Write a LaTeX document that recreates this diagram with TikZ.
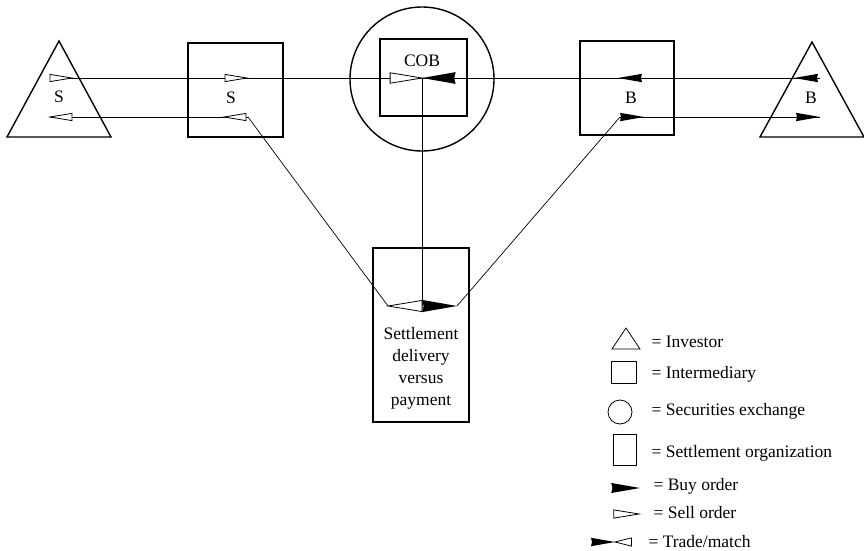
\documentclass[tikz,border=0pt]{standalone}
\usepackage{fontspec}
\setmainfont{Liberation Serif}
\begin{document}
\begin{tikzpicture}[x=1pt,y=-1pt,
  shapeline/.style={line width=1.4pt},
  keyline/.style={line width=0.8pt},
  link/.style={line width=0.7pt},
  boxnode/.style={shapeline,draw,rectangle,inner sep=0pt},
  lbl/.style={font=\fontsize{17.5}{21.7}\selectfont},
  keytext/.style={lbl,anchor=base west},
  % open (sell) and filled (buy) arrow heads, tip at the origin, pointing along +x
  pics/sellhead/.style={code={\draw[line width=0.8pt,fill=white,line join=miter]
      (0,0) -- (-22,-3.6) -- (-22,3.6) -- cycle;}},
  pics/buyhead/.style={code={\fill[black]
      (0,0) -- (-24,-4.2) -- (-23,0) -- (-24,4.2) -- cycle;}}
]
\useasboundingbox (0,0) rectangle (864,551);

% investors
\coordinate (tl1) at (59,41);
\coordinate (tl2) at (7,137);
\coordinate (tl3) at (111,137);
\draw[shapeline,line join=miter] (tl1) -- (tl2) -- (tl3) -- cycle;
\node[lbl] (sellinv) at (59,97) {S};

\coordinate (tr1) at (812,42);
\coordinate (tr2) at (760,137);
\coordinate (tr3) at (864,137);
\draw[shapeline,line join=miter] (tr1) -- (tr2) -- (tr3) -- cycle;
\node[lbl] (buyinv) at (811,98) {B};

% intermediaries
\node[boxnode,minimum width=95pt,minimum height=94pt] (sellint) at (235.5,90) {};
\node[lbl] (sellintlbl) at (231,98) {S};
\node[boxnode,minimum width=94pt,minimum height=94pt] (buyint) at (627,88) {};
\node[lbl] (buyintlbl) at (631,98) {B};

% securities exchange with its central order book
\node[shapeline,draw,circle,minimum size=144pt,inner sep=0pt] (exch) at (422,79) {};
\node[boxnode,minimum width=87pt,minimum height=77pt] (cob) at (423.5,77.5) {};
\node[lbl] (coblbl) at (422,61) {COB};

% settlement organization
\node[boxnode,minimum width=96pt,minimum height=174pt] (settle) at (421,335) {};
\node[lbl,align=center,anchor=base] (settlelbl) at (421,405)
  {Settlement\\delivery\\versus\\payment};

% points where the order flows run
\coordinate (a1) at (51,78);
\coordinate (a2) at (820,78);
\coordinate (m) at (422,78);
\coordinate (b1) at (50,117);
\coordinate (b2) at (248,117);
\coordinate (c1) at (620,117);
\coordinate (c2) at (820,117);
\coordinate (d) at (422,306);
\coordinate (dl) at (388,306);
\coordinate (dr) at (457,306);

% connectors
\draw[link] (a1) -- (a2);
\draw[link] (b1) -- (b2);
\draw[link] (c1) -- (c2);
\draw[link] (b2) -- (dl);
\draw[link] (c1) -- (dr);
\draw[link] (m) -- (d);

% sell orders
\pic at (72,78) {sellhead};
\pic at (247,78) {sellhead};
\pic[rotate=180] at (50,117) {sellhead};
\pic[rotate=180] at (224,117) {sellhead};
\pic[scale=1.45] at (m) {sellhead};

% buy orders
\pic[rotate=180] at (618,78) {buyhead};
\pic[rotate=180] at (794,78) {buyhead};
\pic at (644,117) {buyhead};
\pic at (c2) {buyhead};
\pic[rotate=180,scale=1.4] at (m) {buyhead};

% trade / match in settlement
\pic[rotate=180,scale=1.55] at (dl) {sellhead};
\pic[scale=1.45] at (dr) {buyhead};

% key
\draw[keyline,line join=miter] (626,328) -- (612,349) -- (640,349) -- cycle;
\node[keytext] (k1) at (648,347) {= Investor};
\draw[keyline] (611,361) rectangle (636,383);
\node[keytext] (k2) at (648,378) {= Intermediary};
\draw[keyline] (620,412) circle (12);
\node[keytext] (k3) at (648,415) {= Securities exchange};
\draw[keyline] (613,434) rectangle (636,465);
\node[keytext] (k4) at (648,457) {= Settlement organization};
\pic[scale=1.2] at (640,488) {buyhead};
\node[keytext] (k5) at (650,490) {= Buy order};
\pic[scale=1.15] at (639,514) {sellhead};
\node[keytext] (k6) at (650,518) {= Sell order};
\pic[scale=1.0] at (615,542) {buyhead};
\pic[rotate=180,xscale=0.75,yscale=1.15] at (615,542) {sellhead};
\node[keytext] (k7) at (645,547) {= Trade/match};
\end{tikzpicture}
\end{document}
